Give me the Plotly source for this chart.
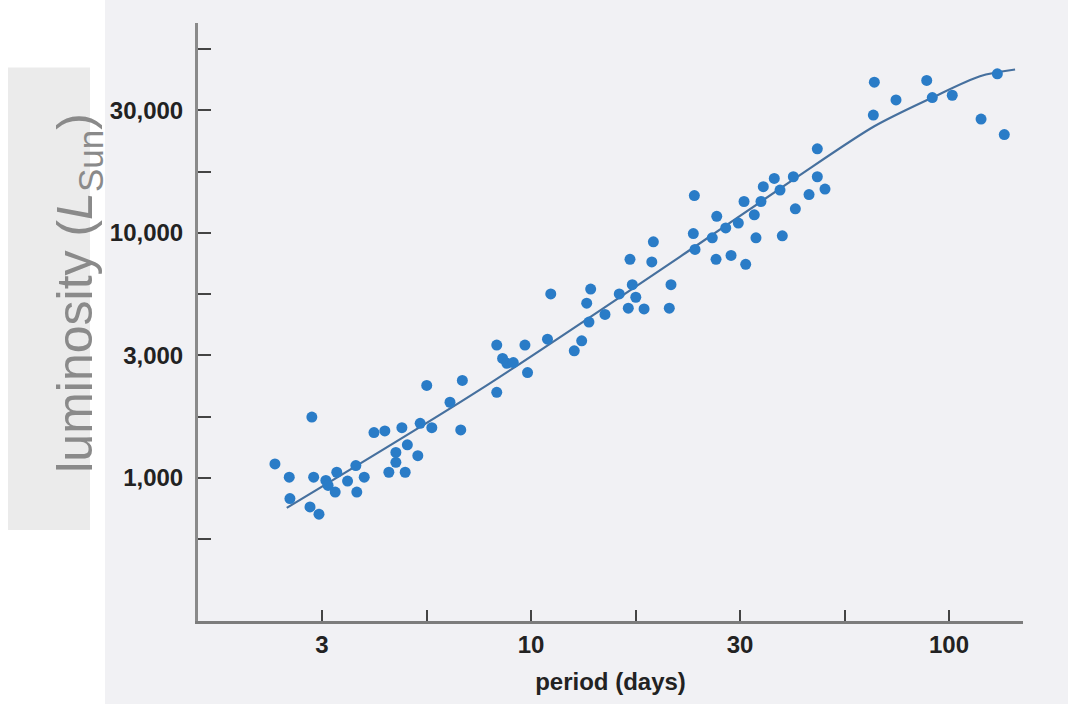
import plotly.graph_objects as go

# --- data (period in days, luminosity in solar units) ---
period = [2.44, 2.64, 2.65, 2.96, 3.11, 2.99, 3.02, 3.23, 3.27, 3.40,
          3.43, 3.64, 3.83, 3.81, 3.99, 4.21, 4.47, 4.57, 4.75, 4.75,
          4.91, 5.00, 5.06, 5.36, 5.43, 5.79, 5.63, 6.40, 6.85, 6.79,
          8.28, 9.67, 10.95, 8.55, 8.75, 9.07, 8.28, 9.81, 11.15, 12.69,
          13.22, 13.59, 13.89, 13.76, 15.03, 16.26, 17.09, 17.25, 17.47, 17.81,
          18.64, 19.45, 19.62, 21.62, 21.42, 24.59, 24.45, 24.68, 27.14, 27.71,
          27.82, 29.23, 30.10, 31.33, 32.33, 32.63, 34.21, 34.53, 35.49, 35.95,
          38.19, 39.42, 39.92, 42.42, 42.89, 46.25, 48.41, 48.41, 50.50, 66.27,
          65.91, 74.68, 88.44, 91.20, 101.8, 119.3, 130.5, 135.6]
luminosity = [1139, 1005, 822, 760, 710, 1769, 1005, 975, 930, 874,
              1053, 969, 874, 1121, 1005, 1529, 1553, 1053, 1269, 1156,
              1601, 1053, 1363, 1230, 1668, 1601, 2383, 2034, 2496, 1568,
              3480, 3480, 3680, 3072, 2933, 2952, 2233, 2689, 5629, 3300,
              3622, 5160, 5897, 4324, 4645, 5629, 4925, 7795, 6143, 5458,
              4892, 7609, 9192, 6143, 4925, 14200, 9931, 8558, 9541, 7795,
              11680, 10470, 8091, 10970, 13430, 7441, 11850, 9541, 13430, 15440,
              16690, 14960, 9721, 16950, 12540, 14330, 16950, 22050, 15100, 41260,
              30270, 34900, 41930, 35690, 36470, 29160, 44620, 25190]

# fitted relation (points along the drawn curve)
fit_period = [2.604, 7.551, 24.45, 42.82, 66.27, 91.2, 118.6, 143.9]
fit_luminosity = [753, 2289, 8694, 16690, 27250, 35690, 43630, 46450]

# ticks (the original spaces 3-10-30-100 evenly, i.e. half decades)
x_tickvals = [10 ** 0.5, 10 ** 0.75, 10, 10 ** 1.25, 10 ** 1.5, 10 ** 1.75, 100]
x_ticktext = ["3", "", "10", "", "30", "", "100"]
y_tickvals = [10 ** 2.75, 1000, 10 ** 3.25, 10 ** 3.5, 10 ** 3.75,
              10000, 10 ** 4.25, 10 ** 4.5, 10 ** 4.75]
y_ticktext = ["", "1,000", "", "3,000", "", "10,000", "", "30,000", ""]

fig = go.Figure()

fig.add_trace(go.Scatter(
    x=fit_period, y=fit_luminosity, mode="lines",
    line=dict(color="#46709e", width=2.2, shape="spline", smoothing=0.8),
    hoverinfo="skip", showlegend=False,
))
fig.add_trace(go.Scatter(
    x=period, y=luminosity, mode="markers",
    marker=dict(color="#2a7cc7", size=11, line=dict(width=0)),
    showlegend=False,
))

FONT = "Liberation Sans, Arial, sans-serif"
tick_font = dict(family=FONT, size=24, color="#222222", weight="bold")

fig.update_xaxes(
    type="log", range=[0.2033, 2.177],
    tickvals=x_tickvals, ticktext=x_ticktext,
    ticks="inside", ticklen=11, tickwidth=2, tickcolor="#444444",
    showline=True, linecolor="#7c7c7c", linewidth=3,
    showgrid=False, zeroline=False,
    tickfont=tick_font,
    title=dict(text="<b>period (days)</b>", font=dict(family=FONT, size=24, color="#222222"),
               standoff=17),
)
fig.update_yaxes(
    type="log", range=[2.415, 4.857],
    tickvals=y_tickvals, ticktext=y_ticktext,
    ticks="inside", ticklen=13, tickwidth=2, tickcolor="#444444",
    showline=True, linecolor="#8a8a8a", linewidth=3,
    showgrid=False, zeroline=False,
    tickfont=tick_font, ticklabelstandoff=7,
)

# background panels: white strip at left, grey box behind the y label
fig.add_shape(type="rect", xref="paper", yref="paper", layer="below",
              x0=-0.3, x1=-0.1127, y0=-0.2, y1=1.1, fillcolor="white", line_width=0)
fig.add_shape(type="rect", xref="paper", yref="paper", layer="below",
              x0=-0.3, x1=-0.1309, y0=0.1523, y1=0.9255, fillcolor="#ebebeb", line_width=0)

fig.add_annotation(
    xref="paper", yref="paper", x=-0.1855, y=0.5497, showarrow=False,
    text="luminosity (<i>L</i><sub>Sun</sub>)", textangle=-90,
    font=dict(family=FONT, size=50, color="#8a8a8a"),
)

# the page body adds an 8px margin, so the figure is 8px smaller than the window
fig.update_layout(
    width=1060, height=696,
    margin=dict(l=190, r=45, t=15, b=77),
    paper_bgcolor="#f1f1f4", plot_bgcolor="#f1f1f4",
    font=dict(family=FONT),
)

# paint the body margin like the panel behind it (white left strip, grey elsewhere)
fig.write_html(
    "out.html", config={"displayModeBar": False},
    post_script="document.body.style.background = "
                "'linear-gradient(to right, #ffffff 105px, #f1f1f4 105px)';",
)
